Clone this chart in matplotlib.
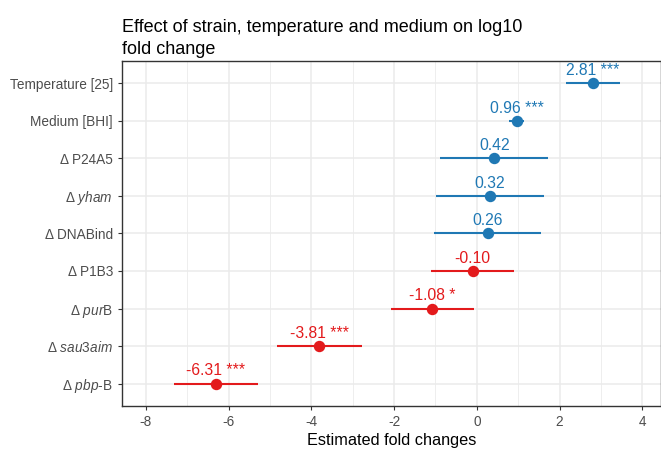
import matplotlib
matplotlib.use("Agg")
import matplotlib.pyplot as plt
import numpy as np

plt.rcParams['font.family'] = ['Liberation Sans', 'DejaVu Sans']
plt.rcParams['mathtext.fontset'] = 'custom'
plt.rcParams['mathtext.rm'] = 'Liberation Sans'
plt.rcParams['mathtext.it'] = 'Liberation Sans:italic'
plt.rcParams['axes.unicode_minus'] = False

# terms, top to bottom
terms = ['Temperature [25]', 'Medium [BHI]', 'Δ P24A5', r'Δ $\mathit{yham}$', 'Δ DNABind',
         'Δ P1B3', r'Δ $\mathit{pur}$B', r'Δ $\mathit{sau3aim}$', r'Δ $\mathit{pbp}$-B']
estimate = [2.81, 0.96, 0.42, 0.32, 0.26, -0.10, -1.08, -3.81, -6.31]
ci_low = [2.15, 0.77, -0.88, -0.98, -1.04, -1.11, -2.08, -4.82, -7.32]
ci_high = [3.46, 1.14, 1.72, 1.62, 1.56, 0.90, -0.07, -2.78, -5.29]
stars = ['***', '***', '', '', '', '', '*', '***', '***']

blue = '#1F78B4'
red = '#E31A1C'

fig = plt.figure(figsize=(6.61, 4.49), dpi=100)
ax = fig.add_axes([122/661, 43/449, 1 - 122/661, 345/449])

n = len(terms)
ypos = np.arange(n)[::-1]
for y, est, lo, hi, st in zip(ypos, estimate, ci_low, ci_high, stars):
    c = blue if est > 0 else red
    ax.plot([lo, hi], [y, y], color=c, lw=1.5, solid_capstyle='butt', zorder=3)
    ax.plot(est, y, 'o', color=c, ms=7.2, zorder=4)
    lab = f"{est:.2f}" + (" " + st if st else "")
    ax.annotate(lab, (est, y), xytext=(0, 6), textcoords='offset points',
                ha='center', va='baseline', color=c, fontsize=11.3, zorder=5)

ax.set_xlim(-8.575, 4.45)
ax.set_ylim(-0.6, n - 1 + 0.6)
ax.set_yticks(ypos)
ax.set_yticklabels(terms)
ax.set_xticks(np.arange(-8, 5, 2))
ax.set_xticks(np.arange(-7, 5, 2), minor=True)
ax.grid(True, which='major', color='#EBEBEB', lw=1.1, zorder=0)
ax.grid(True, which='minor', axis='x', color='#EBEBEB', lw=0.6, zorder=0)
ax.set_axisbelow(True)
ax.tick_params(which='major', length=3, color='#333333', labelsize=9.8, labelcolor='#4D4D4D', width=0.8)
ax.tick_params(which='minor', length=0)
for s in ax.spines.values():
    s.set_color('#333333')
    s.set_linewidth(1.0)

ax.set_xlabel('Estimated fold changes', fontsize=11.7, labelpad=3)
ax.set_title('Effect of strain, temperature and medium on log10\nfold change',
             loc='left', fontsize=13, pad=5, linespacing=1.4)

fig.savefig('out.png', dpi=100)
